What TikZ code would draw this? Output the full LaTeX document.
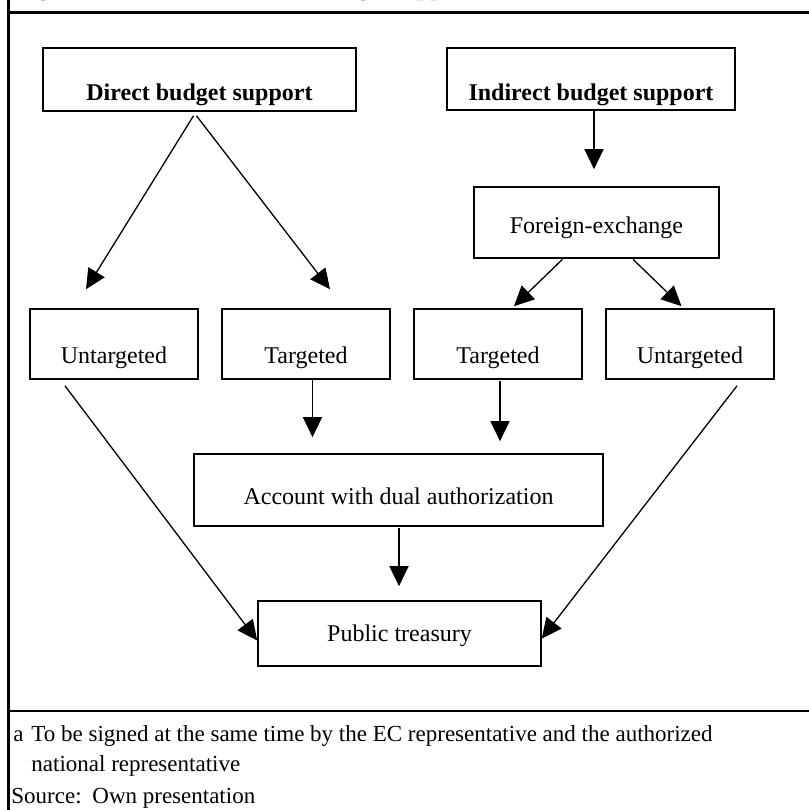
\documentclass[tikz,border=0pt]{standalone}
\usepackage{fontspec}
\setmainfont{Liberation Serif}
\usetikzlibrary{arrows.meta}

\begin{document}
\begin{tikzpicture}[x=0.5pt,y=-0.5pt,
  >={Triangle[length=10pt,width=9.5pt]},
  box/.style={draw,line width=0.8pt,inner sep=0pt,anchor=base,
    font=\fontsize{12pt}{14pt}\selectfont},
  bbox/.style={box,font=\fontsize{12pt}{14pt}\selectfont\bfseries},
  arr/.style={->,line width=0.65pt},
  rule/.style={line width=1.2pt},
  note/.style={inner sep=0pt,anchor=base west,font=\fontsize{11.5pt}{13pt}\selectfont}]
  \useasboundingbox (0,0) rectangle (809,810);
  \clip (0,0) rectangle (809,810);
  % frame
  \draw[rule] (8.5,0) -- (8.5,810);
  \draw[rule] (8.5,12.5) -- (809,12.5);
  \draw[rule] (8.5,711) -- (809,711);
  \node[inner sep=0pt,anchor=base west,font=\fontsize{12pt}{14pt}\selectfont\bfseries]
    (title) at (16,-5) {Figure 2: Direct and indirect budget support};
  % boxes
  \node[bbox,minimum width=156.5pt,text height=26pt,text depth=5.5pt] (direct) at (199.5,100) {Direct budget support};
  \node[bbox,minimum width=144pt,text height=26pt,text depth=5pt] (indirect) at (591,100) {Indirect budget support};
  \node[box,minimum width=122.5pt,text height=23pt,text depth=12.5pt] (fx) at (596.5,233) {Foreign-exchange};
  \foreach \x/\n/\t in {114/untL/Untargeted,306/tarL/Targeted,498/tarR/Targeted,690/untR/Untargeted}
    \node[box,minimum width=84pt,text height=27pt,text depth=8pt] (\n) at (\x,363) {\t};
  \node[box,minimum width=204.5pt,text height=25pt,text depth=11pt] (account) at (398.5,504) {Account with dual authorization};
  \node[box,minimum width=141.5pt,text height=20pt,text depth=12.5pt] (treasury) at (399.5,641) {Public treasury};
  % arrows
  \draw[arr] ([xshift=-3pt,yshift=-2pt]direct.south) -- ([xshift=-14pt,yshift=9.5pt]untL.north);
  \draw[arr] ([xshift=-1.5pt,yshift=-2pt]direct.south) -- ([xshift=12pt,yshift=9.5pt]tarL.north);
  \draw[arr] ([xshift=1.5pt]indirect.south) -- ([xshift=-1.25pt,yshift=8.5pt]fx.north);
  \draw[arr] ([xshift=-17pt,yshift=-0.25pt]fx.south) -- ([xshift=8pt,yshift=1pt]tarR.north);
  \draw[arr] ([xshift=18.25pt,yshift=-0.25pt]fx.south) -- ([xshift=-4.25pt,yshift=1pt]untR.north);
  \draw[arr] ([xshift=3.25pt]tarL.south) -- ([xshift=-43pt,yshift=8pt]account.north);
  \draw[arr] ([xshift=1pt,yshift=-0.5pt]tarR.south) -- ([xshift=50.75pt,yshift=6pt]account.north);
  \draw[arr] ([xshift=0.25pt,yshift=-0.5pt]account.south) -- ([xshift=-0.25pt,yshift=7pt]treasury.north);
  \draw[arr] ([xshift=-24.5pt,yshift=-3pt]untL.south) -- ([yshift=-3.5pt]treasury.west);
  \draw[arr] ([xshift=23.5pt,yshift=-3pt]untR.south) -- ([yshift=-2.5pt]treasury.east);
  % footnote
  \node[note] (fa) at (13,741) {a};
  \node[note] (fline) at (31,741) {To be signed at the same time by the EC representative and the authorized};
  \node[note] (fline2) at (31,771) {national representative};
  \node[note] (src) at (11,803) {Source:};
  \node[note] (own) at (92,803) {Own presentation};
\end{tikzpicture}
\end{document}
